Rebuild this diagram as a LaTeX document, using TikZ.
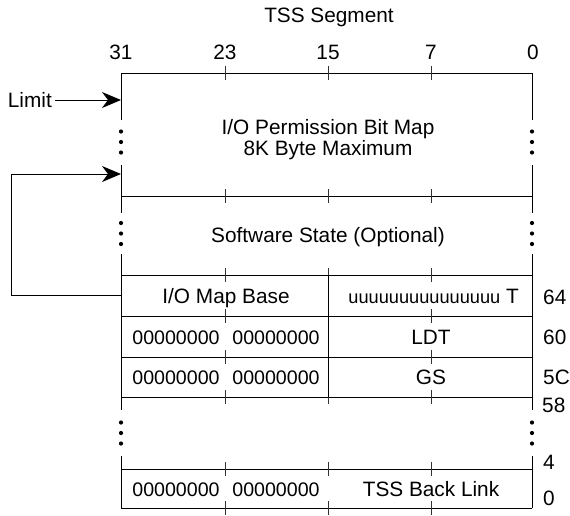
\documentclass[tikz,border=0pt]{standalone}
\usepackage{fontspec}
\setmainfont{Liberation Sans}
\usetikzlibrary{arrows.meta}
\begin{document}
\begin{tikzpicture}[x=1pt,y=-1pt,
  frame/.style={line width=1pt, draw=black},
  tickmark/.style={line width=1pt, draw=black!80},
  txt/.style={font=\fontsize{20.8}{22}\selectfont, inner sep=0pt, text height=14.8pt, text depth=0pt},
  num/.style={txt, font=\fontsize{19.6}{22}\selectfont},
  ptr/.style={line width=1pt, -{Stealth[length=19pt,width=16pt,inset=6pt]}},
  dot/.style={fill=black}]
\useasboundingbox (0,0) rectangle (570,515);

% horizontal lines and ticks
\foreach \y in {73,196,275,316,357,397,469,508}{
  \draw[frame] (121,\y) -- (532,\y);
  \foreach \x in {225,328,431}
    \draw[tickmark] (\x,\y-7) -- (\x,\y+7);
}
% divider for fields
\draw[frame] (328,275) -- (328,397);

% vertical sides with gaps
\foreach \x in {121,532}{
  \draw[frame] (\x,73) -- (\x,120);
  \draw[frame] (\x,165) -- (\x,213);
  \draw[frame] (\x,254) -- (\x,410);
  \draw[frame] (\x,456) -- (\x,508);
  \foreach \y in {131.5,142,152.5,223,233.5,244,422.5,433,443.5}
    \fill[dot] (\x,\y) circle (2.1);
}

% headings
\node[txt] (title) at (329,15) {TSS Segment};
\node[txt] (b31) at (121,52) {31};
\node[txt] (b23) at (225,52) {23};
\node[txt] (b15) at (328,52) {15};
\node[txt] (b7)  at (431,52) {7};
\node[txt] (b0)  at (533,52) {0};

% field texts
\node[txt] (iopbm1) at (328,127) {I/O Permission Bit Map};
\node[txt] (iopbm2) at (328,148) {8K Byte Maximum};
\node[txt] (sws) at (328,235) {Software State (Optional)};
\node[txt] (iomb) at (226,296.5) {I/O Map Base};
\node[txt,anchor=east] (tbit) at (519,296.5) {{\fontsize{18.2}{20}\selectfont uuuuuuuuuuuuuuu} T};
\node[num] (z1a) at (176,337) {00000000};
\node[num] (z1b) at (276,337) {00000000};
\node[txt] (ldt) at (431,337) {LDT};
\node[num] (z2a) at (176,377.5) {00000000};
\node[num] (z2b) at (276,377.5) {00000000};
\node[txt] (gs) at (431,377.5) {GS};
\node[num] (z3a) at (176,489.5) {00000000};
\node[num] (z3b) at (276,489.5) {00000000};
\node[txt] (tbl) at (431,489.5) {TSS Back Link};

% offsets
\node[txt,anchor=west] (o64) at (543,297) {64};
\node[txt,anchor=west] (o60) at (543,337) {60};
\node[txt,anchor=west] (o5c) at (543,377) {5C};
\node[txt,anchor=west] (o58) at (542,405) {58};
\node[txt,anchor=west] (o4)  at (543,462) {4};
\node[txt,anchor=west] (o0)  at (543,498) {0};

% pointers
\node[txt,anchor=east] (limit) at (52,100) {Limit};
\coordinate (limtip) at (121,100);
\draw[ptr] (limit.east) ++(3,0) -- (limtip);
\coordinate (iobase) at (121,295.5);
\coordinate (bmtip) at (121,174);
\draw[ptr] (iobase) -- ++(-110,0) |- (bmtip);
\end{tikzpicture}
\end{document}
